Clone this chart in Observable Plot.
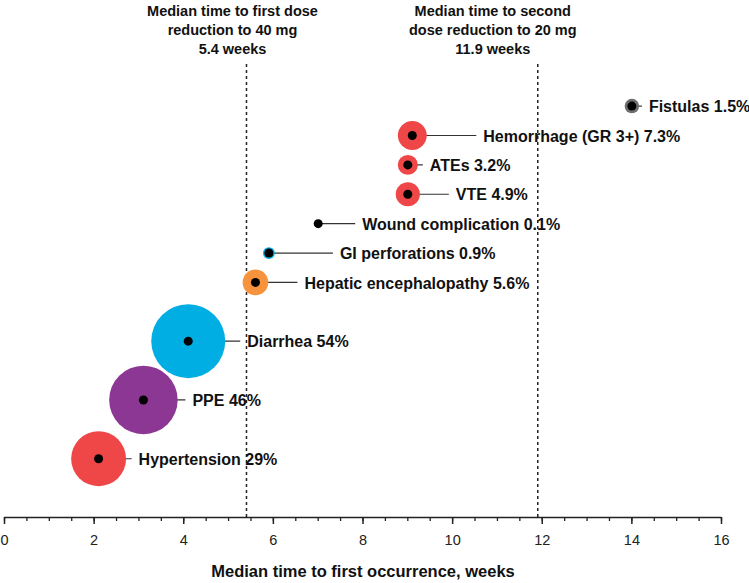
<!DOCTYPE html>
<html>
<head>
<meta charset="utf-8">
<script src="https://cdn.jsdelivr.net/npm/d3@7"></script>
<script src="https://cdn.jsdelivr.net/npm/@observablehq/plot@0.6"></script>
<style>
  html, body { margin: 0; padding: 0; background: #fff; }
  #chart svg { font-family: "Liberation Sans", Arial, sans-serif; }
</style>
</head>
<body>
<div id="chart"></div>
<script>
// ---- data ----
const events = ["Fistulas", "Hemorrhage (GR 3+)", "ATEs", "VTE", "Wound complication",
  "GI perforations", "Hepatic encephalopathy", "Diarrhea", "PPE", "Hypertension"];
const percents = [1.5, 7.3, 3.2, 4.9, 0.1, 0.9, 5.6, 54, 46, 29];
const medianWeeks = [14.0, 9.1, 9.0, 9.0, 7.0, 5.9, 5.6, 4.1, 3.1, 2.1];
const rows = [13, 12, 11, 10, 9, 8, 7, 5, 3, 1];
const doseReductionWeeks = [5.4, 11.9];
const doseReductionLabels = [
  "Median time to first dose\nreduction to 40 mg\n5.4 weeks",
  "Median time to second\ndose reduction to 20 mg\n11.9 weeks"
];
const xTicks = [0, 2, 4, 6, 8, 10, 12, 14, 16];
const xLabel = "Median time to first occurrence, weeks";

// ---- styles / layout ----
const colors = ["#6e6e6e", "#ef4747", "#ef4747", "#ef4747", "#000000",
  "#00aee3", "#f7923d", "#00aee3", "#8b3793", "#ef4747"];
const labelOffsetPx = [17, 71, 22, 48, 44, 71, 49, 59, 49, 40];
const annotationDxPx = [-14, -45];

const W = 749, H = 583, mL = 4, mR = 28, mT = 63, mB = 66;
const xDomain = [0, 16];
const yDomain = [-1, 14.45];
const pxPerWeek = (W - mL - mR) / (xDomain[1] - xDomain[0]);

const data = events.map((e, i) => ({
  event: e,
  pct: percents[i],
  week: medianWeeks[i],
  row: rows[i],
  color: colors[i],
  label: `${e} ${percents[i]}%`,
  labelX: medianWeeks[i] + labelOffsetPx[i] / pxPerWeek,
  lineEnd: medianWeeks[i] + (labelOffsetPx[i] - 7) / pxPerWeek
}));

const annotations = doseReductionWeeks.map((w, i) => ({
  x: w + annotationDxPx[i] / pxPerWeek,
  text: doseReductionLabels[i]
}));

const minorTicks = d3.range(0, 16.001, 0.5);

const chart = Plot.plot({
  width: W,
  height: H,
  marginLeft: mL,
  marginRight: mR,
  marginTop: mT,
  marginBottom: mB,
  x: { domain: xDomain },
  y: { domain: yDomain, axis: null },
  r: { type: "sqrt", domain: [0, 54], range: [1.3, 37] },
  color: { type: "identity" },
  style: { fontFamily: "Liberation Sans, Arial, sans-serif", background: "#fff" },
  marks: [
    Plot.ruleX(doseReductionWeeks, { y1: yDomain[0], y2: yDomain[1], stroke: "#222", strokeWidth: 1.5, strokeDasharray: "3,3" }),
    Plot.link(data, { x1: "week", x2: "lineEnd", y1: "row", y2: "row", stroke: "#333", strokeWidth: 1.2 }),
    Plot.dot(data, { x: "week", y: "row", r: "pct", fill: "color" }),
    Plot.dot(data, { x: "week", y: "row", r: 4.5, fill: "#000" }),
    Plot.text(data, { x: "labelX", y: "row", text: "label", textAnchor: "start", fontWeight: "bold", fontSize: 16, fill: "#111", dy: 1 }),
    Plot.text(annotations, { x: "x", text: "text", frameAnchor: "top", lineAnchor: "middle", dy: -35, fontWeight: "bold", fontSize: 14.5, lineHeight: 1.31, fill: "#111" }),
    Plot.ruleY([yDomain[0]], { x1: xDomain[0], x2: xDomain[1], stroke: "#222", strokeWidth: 1.5 }),
    Plot.axisX({ ticks: minorTicks, tickSize: 4, text: null, label: null, stroke: "#222", strokeWidth: 1.3 }),
    Plot.axisX({ ticks: xTicks, tickSize: 7, text: null, label: null, stroke: "#222", strokeWidth: 1.5 }),
    Plot.text(xTicks, { x: d => d, frameAnchor: "bottom", lineAnchor: "middle", dy: 23, fontSize: 14.5, fill: "#222" }),
    Plot.text([xLabel], { frameAnchor: "bottom", lineAnchor: "middle", dy: 54, fontWeight: "bold", fontSize: 16.5, fill: "#111" })
  ]
});

document.getElementById("chart").appendChild(chart);
</script>
</body>
</html>
